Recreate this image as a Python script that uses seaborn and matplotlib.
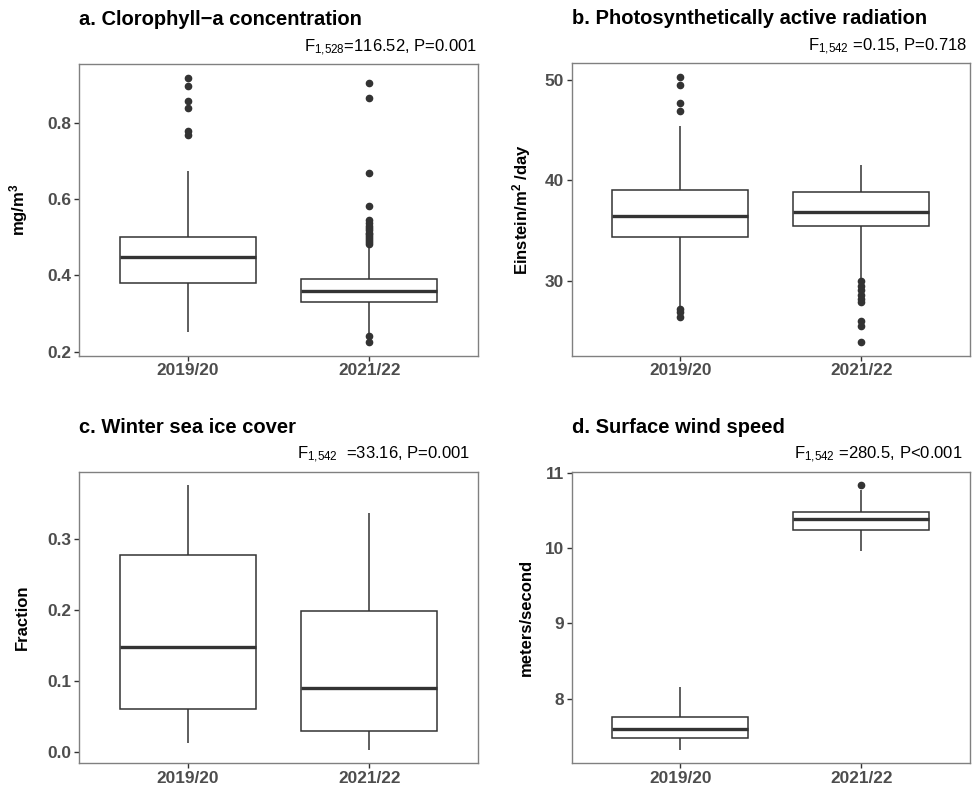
import numpy as np
import pandas as pd
import matplotlib
matplotlib.use("Agg")
import matplotlib.pyplot as plt
import seaborn as sns

# categories
years = ["2019/20", "2021/22"]

# box summaries: [low whisker, Q1, median, Q3, high whisker]
chl_box = [[0.252, 0.381, 0.447, 0.500, 0.674],
           [0.250, 0.331, 0.358, 0.390, 0.476]]
chl_out = [[0.768, 0.778, 0.838, 0.856, 0.897, 0.918],
           [0.224, 0.240, 0.482, 0.487, 0.492, 0.497, 0.502, 0.507, 0.512,
            0.518, 0.524, 0.530, 0.536, 0.545, 0.582, 0.667, 0.865, 0.904]]

par_box = [[27.40, 34.37, 36.49, 39.07, 45.37],
           [30.30, 35.42, 36.82, 38.88, 41.56]]
par_out = [[26.35, 26.90, 27.20, 46.94, 47.70, 49.50, 50.33],
           [23.86, 25.45, 26.00, 27.90, 28.20, 28.60, 29.06, 29.50, 29.93]]

ice_box = [[0.013, 0.061, 0.148, 0.278, 0.376],
           [0.003, 0.030, 0.090, 0.198, 0.336]]
ice_out = [[], []]

wind_box = [[7.32, 7.475, 7.594, 7.757, 8.154],
            [9.963, 10.241, 10.382, 10.475, 10.77]]
wind_out = [[], [10.837]]

titles = ["a. Clorophyll\u2212a concentration",
          "b. Photosynthetically active radiation",
          "c. Winter sea ice cover",
          "d. Surface wind speed"]
stats_txt = [r"F$_{\mathregular{1{,}528}}$=116.52, P=0.001",
             r"F$_{\mathregular{1{,}542}}$ =0.15, P=0.718",
             r"F$_{\mathregular{1{,}542}}$  =33.16, P=0.001",
             r"F$_{\mathregular{1{,}542}}$ =280.5, P<0.001"]
ylabels = [r"mg/m$^{\mathbf{3}}$", r"Einstein/m$^{\mathbf{2}}$ /day", "Fraction", "meters/second"]
yticks = [[0.2, 0.4, 0.6, 0.8], [30, 40, 50], [0.0, 0.1, 0.2, 0.3], [8, 9, 10, 11]]
yticklabels = [["0.2", "0.4", "0.6", "0.8"], ["30", "40", "50"],
               ["0.0", "0.1", "0.2", "0.3"], ["8", "9", "10", "11"]]


def expand(box, out):
    # rebuild a sample whose quartiles / whiskers equal the read-off summary
    lo, q1, med, q3, hi = box
    below = sorted(v for v in out if v < q1)
    above = sorted(v for v in out if v > q3)
    m = max(len(below), len(above)) + 1
    return (below + [lo] * (m - len(below)) + [q1] * m + [med] * m + [q3]
            + [hi] * (m - len(above)) + above)


def make_df(boxes, outs):
    rows = []
    for yr, b, o in zip(years, boxes, outs):
        for v in expand(b, o):
            rows.append((yr, v))
    return pd.DataFrame(rows, columns=["year", "value"])


panels = [make_df(chl_box, chl_out), make_df(par_box, par_out),
          make_df(ice_box, ice_out), make_df(wind_box, wind_out)]

sns.set_style("white")
plt.rcParams["font.family"] = ["Liberation Sans", "DejaVu Sans"]
plt.rcParams["mathtext.fontset"] = "custom"
plt.rcParams["mathtext.rm"] = "Liberation Sans"
plt.rcParams["mathtext.it"] = "Liberation Sans:italic"
plt.rcParams["mathtext.bf"] = "Liberation Sans:bold"

W, H = 973, 787
fig = plt.figure(figsize=(W / 100, H / 100), dpi=100)
rects = [(78.7, 64.3, 478.3, 355.7), (571.7, 63.3, 970, 355.7),
         (78.7, 471.7, 478.3, 763.3), (571.7, 471.7, 970, 763.3)]
label_x = [-0.122, -0.097, -0.122, -0.096]
txt_dx = [-1, -3, -8, -7]

for i, df in enumerate(panels):
    l, t, r, b = rects[i]
    ax = fig.add_axes([l / W, 1 - b / H, (r - l) / W, (b - t) / H])
    sns.boxplot(data=df, x="year", y="value", ax=ax, color="white",
                linecolor="#333333", linewidth=1.1, width=0.75, showcaps=False,
                fliersize=4.5,
                flierprops=dict(marker="o", markerfacecolor="#333333",
                                markeredgecolor="#333333"),
                medianprops=dict(linewidth=2.4, color="#333333"))
    lo, hi = df["value"].min(), df["value"].max()
    pad = (hi - lo) * 0.05
    ax.set_ylim(lo - pad, hi + pad)
    ax.set_xlim(-0.6, 1.6)
    ax.set_xticks([0, 1])
    ax.set_xticklabels(years, fontweight="bold")
    ax.set_yticks(yticks[i])
    ax.set_yticklabels(yticklabels[i], fontweight="bold")
    ax.tick_params(length=3.5, width=1, color="#333333", labelcolor="#4D4D4D",
                   labelsize=12.4, pad=2, bottom=True, left=True)
    ax.set_xlabel("")
    ax.set_ylabel(ylabels[i], fontsize=12, fontweight="bold", color="black")
    ax.yaxis.set_label_coords(label_x[i], 0.5)
    for sp in ax.spines.values():
        sp.set_color("#808080")
        sp.set_linewidth(1)
    ax.annotate(titles[i], xy=(0, 1), xycoords="axes fraction",
                xytext=(0, 28), textcoords="offset points", color="black",
                fontsize=14.5, fontweight="bold", ha="left", va="baseline")
    ax.annotate(stats_txt[i], xy=(1, 1), xycoords="axes fraction",
                xytext=(txt_dx[i] * 0.72, 9), textcoords="offset points",
                color="black", fontsize=12, ha="right", va="baseline")

fig.savefig("out.png", dpi=100, facecolor="white")
